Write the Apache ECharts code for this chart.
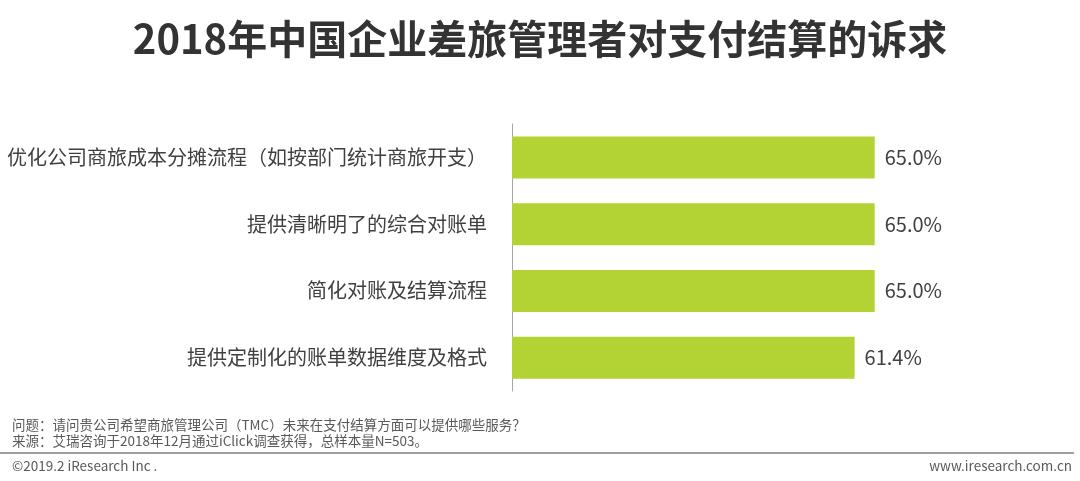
<!DOCTYPE html>
<html>
<head>
<meta charset="utf-8">
<script src="https://cdn.jsdelivr.net/npm/echarts@6/dist/echarts.min.js"></script>
<style>
  html, body { margin: 0; padding: 0; background: #fff; }
  #main { width: 1080px; height: 481px; }
</style>
</head>
<body>
<div id="main"></div>
<script>
// data, top to bottom as shown
var categories = [
  '优化公司商旅成本分摊流程（如按部门统计商旅开支）',
  '提供清晰明了的综合对账单',
  '简化对账及结算流程',
  '提供定制化的账单数据维度及格式'
];
var values = [65.0, 65.0, 65.0, 61.4];

var font = '"Noto Sans CJK SC", "Noto Sans", sans-serif';
var myChart = echarts.init(document.getElementById('main'));

myChart.setOption({
  backgroundColor: '#ffffff',
  animation: false,
  title: {
    text: '2018年中国企业差旅管理者对支付结算的诉求',
    left: 'center',
    top: 14,
    textStyle: { fontFamily: font, fontSize: 40, fontWeight: 'bold', color: '#333333' }
  },
  grid: { left: 512, top: 124, width: 558, height: 267 },
  xAxis: {
    type: 'value',
    min: 0,
    max: 100,
    show: false
  },
  yAxis: {
    type: 'category',
    inverse: true,
    data: categories,
    axisLine: { show: true, lineStyle: { color: '#a6a6a6', width: 1 } },
    axisTick: { show: false },
    axisLabel: { margin: 25, fontFamily: font, fontSize: 20, color: '#404040' }
  },
  series: [{
    type: 'bar',
    data: values,
    barWidth: 42,
    itemStyle: { color: '#b3d334' },
    label: {
      show: true,
      position: 'right',
      distance: 10,
      fontFamily: font,
      fontSize: 20,
      color: '#404040',
      formatter: function (p) { return p.value.toFixed(1) + '%'; }
    }
  }],
  graphic: [
    {
      type: 'text', left: 12, top: 418,
      style: { text: '问题：请问贵公司希望商旅管理公司（TMC）未来在支付结算方面可以提供哪些服务？', font: '13.5px ' + font, fill: '#595959' }
    },
    {
      type: 'text', left: 12, top: 434,
      style: { text: '来源：艾瑞咨询于2018年12月通过iClick调查获得，总样本量N=503。', font: '13.5px ' + font, fill: '#595959' }
    },
    {
      type: 'line',
      shape: { x1: 0, y1: 453, x2: 1074, y2: 453 },
      style: { stroke: '#7f7f7f', lineWidth: 1.5 }
    },
    {
      type: 'text', left: 12, top: 459,
      style: { text: '©2019.2 iResearch Inc .', font: '13.5px ' + font, fill: '#595959' }
    },
    {
      type: 'text', right: 8, top: 459,
      style: { text: 'www.iresearch.com.cn', font: '13.5px ' + font, fill: '#595959' }
    }
  ]
});
</script>
</body>
</html>
